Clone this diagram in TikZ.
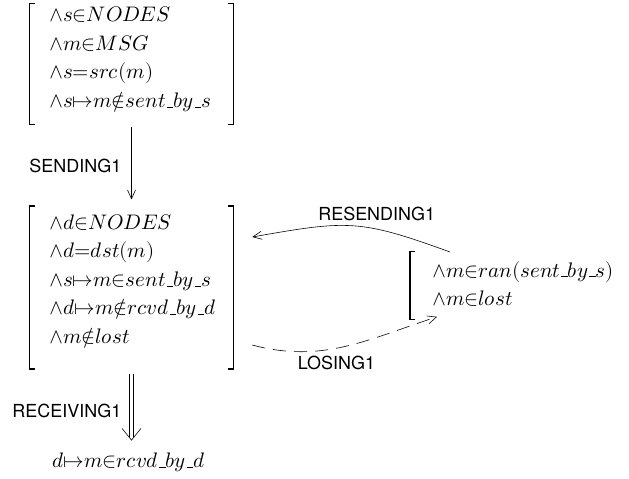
\documentclass[tikz,border=0pt]{standalone}
\usepackage{fontspec}
\usepackage{unicode-math}
\setsansfont{TeX Gyre Heros}
\usepackage{tikz}
\usetikzlibrary{arrows.meta,positioning}
% brackets round a node: #2 and #3 extend them above and below
\newcommand{\lbrk}[3]{\draw[brk] ([shift={(3.5pt,#2)}]#1.north west) -- ([yshift=#2]#1.north west) -- ([yshift=-#3]#1.south west) -- ([shift={(3.5pt,-#3)}]#1.south west);}
\newcommand{\rbrk}[3]{\draw[brk] ([shift={(-3.5pt,#2)}]#1.north east) -- ([yshift=#2]#1.north east) -- ([yshift=-#3]#1.south east) -- ([shift={(-3.5pt,-#3)}]#1.south east);}
\newcommand{\usc}{\kern.06em\vbox{\hrule width.3em}}

\begin{document}
\begin{tikzpicture}[
    x=0.685pt,y=0.685pt,
    conj/.style={align=left,inner xsep=13pt,inner ysep=0pt,font=\fontsize{14.4pt}{19.6pt}\selectfont},
    wide/.style={conj,text width=113pt},
    brk/.style={line width=0.9pt},
    lbl/.style={font=\sffamily\fontsize{12.3pt}{14pt}\selectfont},
    arrow/.style={-{Straight Barb[length=6pt,width=5.5pt]}}
  ]
    \useasboundingbox (0,0) rectangle (629,478);
    \node[wide,anchor=north] (pre) at (131.5,471.5) {$\wedge s{\in}NODES$\\ $\wedge m{\in}MSG$\\ $\wedge s{=}src(m)$\\ $\wedge s{\mapsto}m{\notin}sent\usc by\usc s$};
    \node[wide,anchor=north] (inv) at (131.5,264) {$\wedge d{\in}NODES$\\ $\wedge d{=}dst(m)$\\ $\wedge s{\mapsto}m{\in}sent\usc by\usc s$\\ $\wedge d{\mapsto}m{\notin}rcvd\usc by\usc d$\\ $\wedge m{\notin}lost$};
    \node[conj,inner xsep=15pt,anchor=north west] (lost) at (410,217) {$\wedge m{\in}ran(sent\usc by\usc s)$\\ $\wedge m{\in}lost$};
    \node[font=\fontsize{14.4pt}{16pt}\selectfont] (rcvd) at (128.5,16) {$d{\mapsto}m{\in}rcvd\usc by\usc d$};
    \lbrk{pre}{2pt}{8pt} \rbrk{pre}{2pt}{8pt}
    \lbrk{inv}{5.5pt}{14pt} \rbrk{inv}{5.5pt}{14pt}
    \lbrk{lost}{6.5pt}{8.5pt}
    \draw[arrow,shorten <=10pt,shorten >=10pt] (pre) -- node[lbl,left=3.5pt,yshift=-1.5pt] {SENDING1} (inv);
    % double arrow with an open head
    \coordinate (tip) at ([yshift=5pt]inv.south |- rcvd.north);
    \draw[double,double distance=2.5pt,shorten <=17pt] (inv.south) -- node[lbl,left=3.5pt,pos=0.7] {RECEIVING1} ([yshift=2pt]tip);
    \draw[line join=miter] ([shift={(-6.5pt,8pt)}]tip) -- (tip) -- ([shift={(6.5pt,8pt)}]tip);
    \draw[arrow] ([shift={(40,9)}]lost.north west) to[out=160,in=10,looseness=1.25] node[lbl,above=2pt,pos=0.35] {RESENDING1} ([shift={(19,-23)}]inv.north east);
    \draw[arrow,dash pattern=on 9pt off 5.5pt] ([shift={(19,-131)}]inv.north east) to[out=-15,in=198] node[lbl,below=2pt,pos=0.45] {LOSING1} ([shift={(27,-10)}]lost.south west);
  \end{tikzpicture}
\end{document}
